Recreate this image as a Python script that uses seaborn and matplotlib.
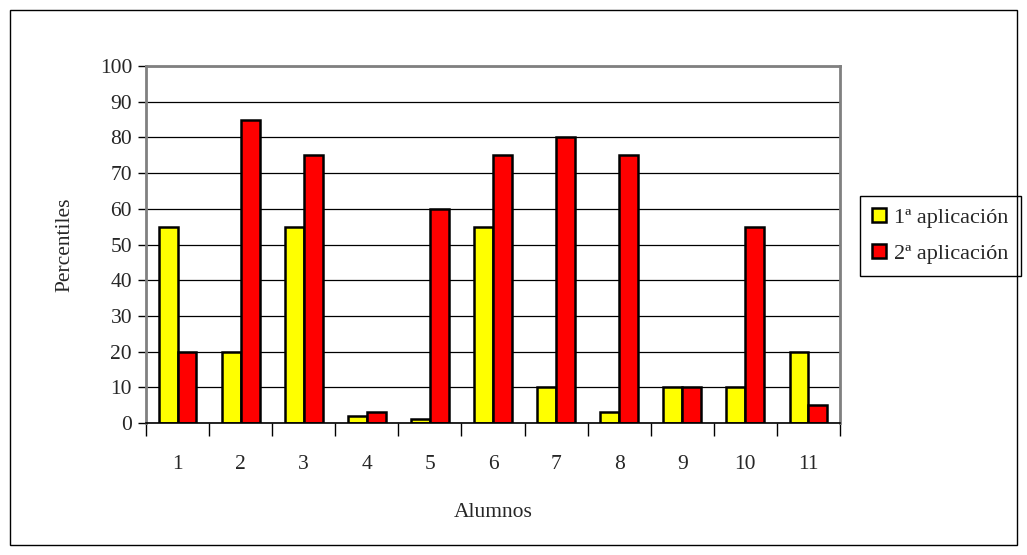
import matplotlib
matplotlib.use("Agg")
import matplotlib.pyplot as plt
import seaborn as sns
import pandas as pd
from matplotlib.patches import Rectangle
from matplotlib.ticker import FixedLocator

alumnos = ["1", "2", "3", "4", "5", "6", "7", "8", "9", "10", "11"]
aplicacion_1 = [55, 20, 55, 2, 1, 55, 10, 3, 10, 10, 20]
aplicacion_2 = [20, 85, 75, 3, 60, 75, 80, 75, 10, 55, 5]
series_names = ["1ª aplicación", "2ª aplicación"]
y_ticks = list(range(0, 101, 10))

df = pd.DataFrame({
    "Alumnos": alumnos * 2,
    "Percentiles": aplicacion_1 + aplicacion_2,
    "serie": [series_names[0]] * len(alumnos) + [series_names[1]] * len(alumnos),
})

sns.set_theme(style="white")
plt.rcParams["font.family"] = ["Liberation Serif", "DejaVu Serif"]

fs = 15.5
fig = plt.figure(figsize=(10.27, 5.55), dpi=100)
ax = fig.add_axes([146/1027, 1 - 423/555, (840-146)/1027, (423-66)/555])

sns.barplot(data=df, x="Alumnos", y="Percentiles", hue="serie",
            palette=["#FFFF00", "#FF0000"], width=0.6, edgecolor="black",
            linewidth=1.8, ax=ax, saturation=1, legend=True)

ax.set_ylim(0, 100)
ax.set_xlim(-0.5, len(alumnos) - 0.5)
ax.set_yticks(y_ticks)
ax.yaxis.grid(True, color="black", linewidth=0.9)
ax.set_axisbelow(True)

ax.tick_params(axis="x", which="major", length=0, labelsize=fs, pad=23)
ax.xaxis.set_minor_locator(FixedLocator([i - 0.5 for i in range(len(alumnos) + 1)]))
ax.tick_params(axis="x", which="minor", bottom=True, length=9, width=1, color="black", direction="out")
ax.tick_params(axis="y", left=True, length=6, width=1, color="black", direction="out", labelsize=fs, pad=4)

for s in ["left", "top", "right"]:
    ax.spines[s].set_color("#808080")
    ax.spines[s].set_linewidth(2)
ax.spines["bottom"].set_color("black")
ax.spines["bottom"].set_linewidth(1.2)

ax.set_xlabel("Alumnos", fontsize=fs, labelpad=21)
ax.set_ylabel("Percentiles", fontsize=fs, labelpad=18)

handles, labels = ax.get_legend_handles_labels()
ax.legend(handles, labels, loc="center left", bbox_to_anchor=(860/1027, 1 - 236/555),
          bbox_transform=fig.transFigure, frameon=True, fancybox=False, edgecolor="black",
          fontsize=fs + 0.5, handlelength=0.6, handleheight=0.6, handletextpad=0.4,
          borderpad=0.55, labelspacing=0.7, framealpha=1, borderaxespad=0)
ax.get_legend().get_frame().set_linewidth(1)

fig.patches.append(Rectangle((10/1027, 10/555), 1007/1027, 535/555, transform=fig.transFigure,
                             fill=False, edgecolor="black", linewidth=1))

fig.savefig("out.png", dpi=100)
